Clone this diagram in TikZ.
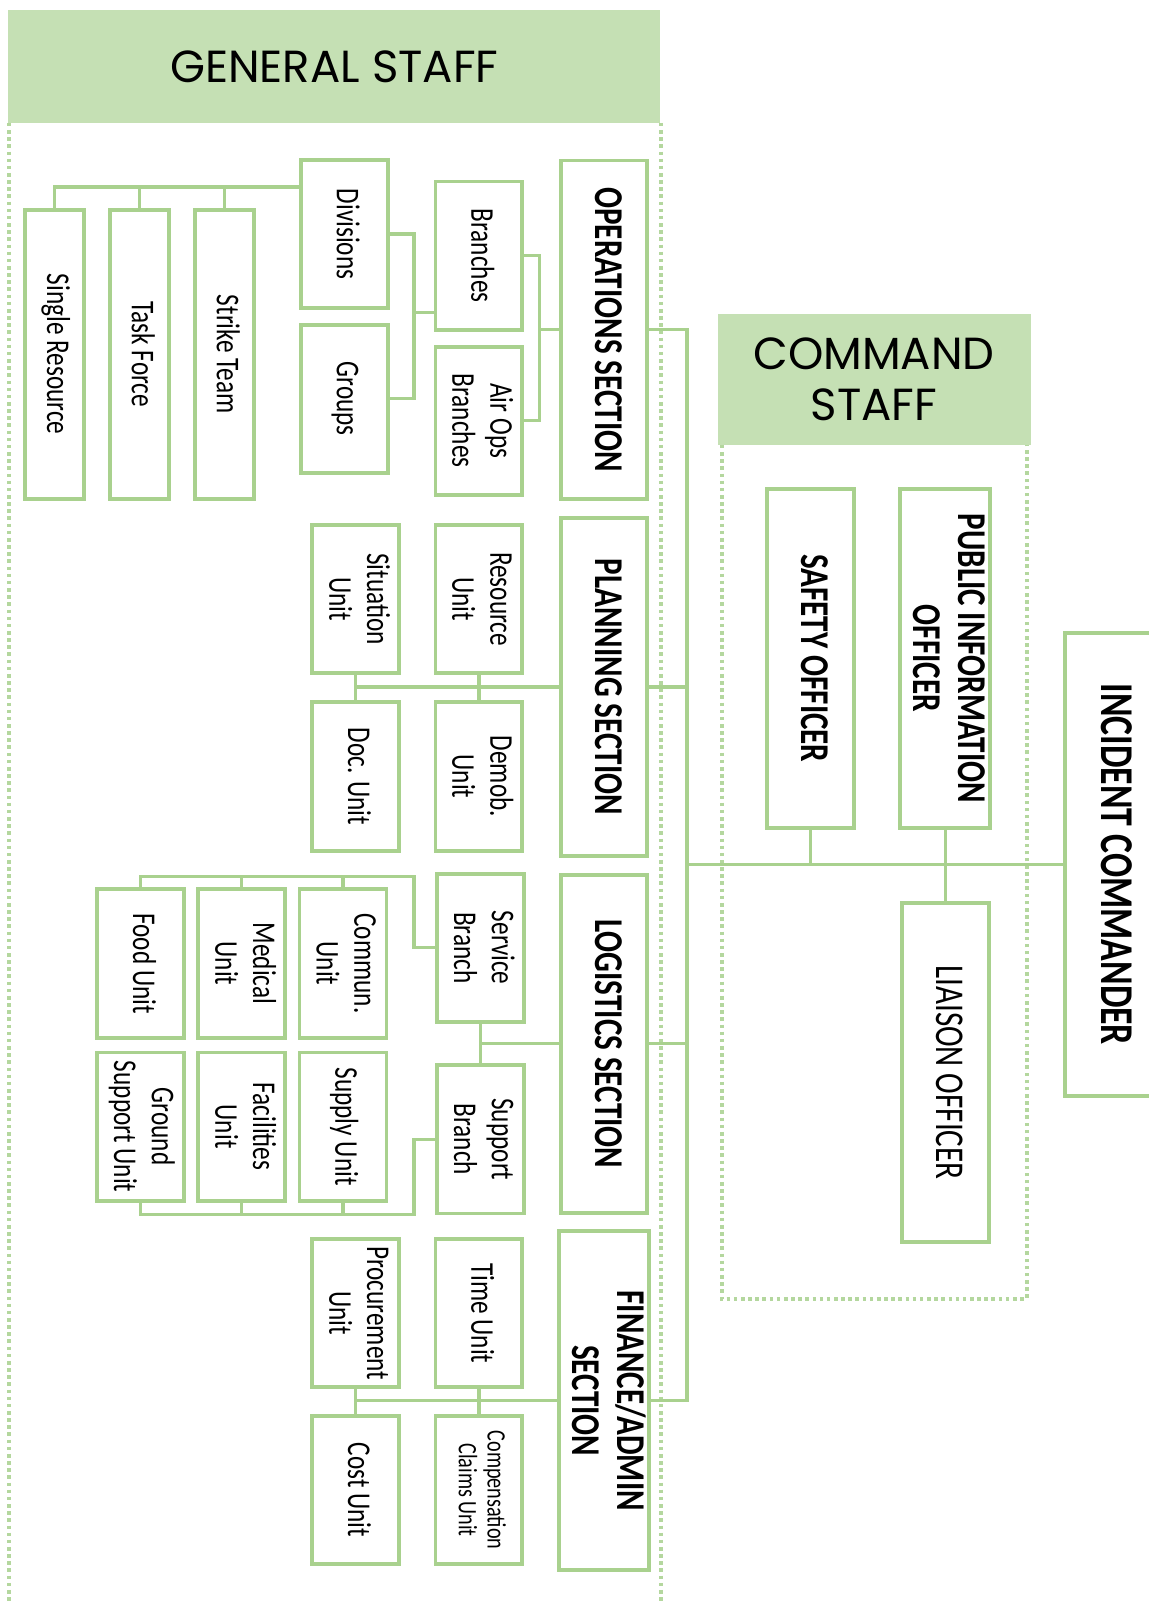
\documentclass[tikz,border=0pt]{standalone}
\usepackage{fontspec}
\usepackage{graphicx}
\setmainfont{Carlito}
\newfontfamily\hdrfont{Poppins}
\definecolor{icsline}{RGB}{169,209,142}
\definecolor{icsfill}{RGB}{197,224,180}
\definecolor{icsdot}{RGB}{180,215,158}
\newcommand{\vtext}[1]{\rotatebox{-90}{\scalebox{0.76}[1]{\begin{tabular}{@{}c@{}}#1\end{tabular}}}}
\begin{document}
\begin{tikzpicture}[x=1pt,y=-1pt,
	box/.style={draw=icsline,line width=3.8pt,fill=white,inner sep=0pt,outer sep=0pt},
	sect/.style={box,minimum width=84pt,minimum height=331pt,font=\fontsize{40}{44}\bfseries\selectfont},
	unit/.style={box,minimum width=85pt,minimum height=145pt,font=\fontsize{32.5}{37}\selectfont},
	tall/.style={box,minimum width=58pt,minimum height=283pt,font=\fontsize{32.5}{37}\selectfont},
	officer/.style={box,minimum width=85pt,minimum height=332pt,font=\fontsize{40}{44}\bfseries\selectfont},
	header/.style={fill=icsfill,inner sep=0pt,align=center,text=black,font=\hdrfont\fontsize{44}{50}\selectfont},
	frame/.style={draw=icsdot,line width=4pt,dash pattern=on 3.5pt off 3.5pt},
	link/.style={draw=icsline,line width=3.2pt}]
	\useasboundingbox (0,0) rectangle (1123,1568);
	\node[header,minimum width=638pt,minimum height=110pt] (gs) at (327,65) {GENERAL STAFF};
	\node[header,minimum width=306pt,minimum height=128pt] (cs) at (855,371) {COMMAND\\STAFF};
	\draw[frame] ([xshift=1pt]gs.south west) -- ++(0,1450);
	\draw[frame] (gs.south east) -- ++(0,1450);
	\draw[frame] ([xshift=4pt]cs.south west) -- ++(0,835) -| ([xshift=-4pt]cs.south east);
	\node[sect] (ops) at (591,322.5) {\vtext{OPERATIONS SECTION}};
	\node[sect] (plan) at (591,672) {\vtext{PLANNING SECTION}};
	\node[sect] (logi) at (591,1021) {\vtext{LOGISTICS SECTION}};
	\node[sect] (fin) at (591,1370) {\vtext{FINANCE/ADMIN\\SECTION}};
	\node[unit] (branch) at (468.5,250) {\vtext{Branches}};
	\node[unit] (airops) at (468.5,411.5) {\vtext{Air Ops\\Branches}};
	\node[unit] (divis) at (337,229) {\vtext{Divisions}};
	\node[unit] (groups) at (337,390) {\vtext{Groups}};
	\node[tall] (single) at (53.5,346.5) {\vtext{Single Resource}};
	\node[tall] (task) at (136.5,346.5) {\vtext{Task Force}};
	\node[tall] (strike) at (219.5,346.5) {\vtext{Strike Team}};
	\node[unit] (resource) at (468.5,586) {\vtext{Resource\\Unit}};
	\node[unit] (demob) at (468.5,759.5) {\vtext{Demob.\\Unit}};
	\node[unit] (situation) at (348,586) {\vtext{Situation\\Unit}};
	\node[unit] (doc) at (348,759.5) {\vtext{Doc. Unit}};
	\node[unit] (service) at (470,927) {\vtext{Service\\Branch}};
	\node[unit] (support) at (470,1114.5) {\vtext{Support\\Branch}};
	\node[unit] (commun) at (335.5,942.5) {\vtext{Commun.\\Unit}};
	\node[unit] (medical) at (236.5,942.5) {\vtext{Medical\\Unit}};
	\node[unit] (food) at (137.5,942.5) {\vtext{Food Unit}};
	\node[unit] (supply) at (335.5,1102) {\vtext{Supply Unit}};
	\node[unit] (facil) at (236.5,1102) {\vtext{Facilities\\Unit}};
	\node[unit] (ground) at (137.5,1102) {\vtext{Ground\\Support Unit}};
	\node[unit] (time) at (468.5,1284.5) {\vtext{Time Unit}};
	\node[unit,font=\fontsize{26}{28}\selectfont] (comp) at (468.5,1457.5) {\vtext{Compensation\\Claims Unit}};
	\node[unit] (procure) at (348,1284.5) {\vtext{Procurement\\Unit}};
	\node[unit] (cost) at (348,1457.5) {\vtext{Cost Unit}};
	\node[officer] (safety) at (793,644) {\vtext{SAFETY OFFICER}};
	\node[officer] (pio) at (924.5,644) {\vtext{PUBLIC INFORMATION\\OFFICER}};
	\node[officer,font=\fontsize{40}{44}\selectfont] (liaison) at (924.5,1049) {\vtext{LIAISON OFFICER}};
	\node[officer,minimum width=90pt,minimum height=453pt,font=\fontsize{46}{50}\bfseries\selectfont] (ic) at (1087,845.5) {\vtext{INCIDENT COMMANDER}};
	\coordinate (tk) at (672,322.5);
	\draw[link] (ops.east) -- (tk) |- (fin.east);
	\draw[link] (plan.east) -- (plan.east -| tk);
	\draw[link] (logi.east) -- (logi.east -| tk);
	\draw[link] (ic.west) -- (ic.west -| tk);
	\draw[link] (safety.south) -- (safety.south |- ic.west);
	\draw[link] (pio.south) -- (liaison.north);
	\coordinate (opsj) at (528,322.5);
	\draw[link] (branch.east) -| (opsj) |- (airops.east);
	\draw[link] (ops.west) -- (opsj);
	\coordinate (dvj) at (405,306);
	\draw[link] (divis.east) -| (dvj) |- (groups.east);
	\draw[link] (dvj) -- (dvj -| branch.west);
	\coordinate (rsj) at (294,183);
	\draw[link] (rsj) -| (single.north);
	\foreach \n in {task,strike}
		\draw[link] (\n.north) -- (\n.north |- rsj);
	\draw[link] (plan.west) -- (plan.west -| situation);
	\draw[link] (resource.south) -- (demob.north);
	\draw[link] (situation.south) -- (doc.north);
	\draw[link] (logi.west) -- (logi.west -| service);
	\draw[link] (service.south) -- (support.north);
	\coordinate (svj) at (405,857);
	\draw[link] (service.west) -| (svj) -| (food.north);
	\foreach \n in {commun,medical}
		\draw[link] (\n.north) -- (\n.north |- svj);
	\coordinate (spj) at (405,1188);
	\draw[link] (support.west) -| (spj) -| (ground.south);
	\foreach \n in {supply,facil}
		\draw[link] (\n.south) -- (\n.south |- spj);
	\draw[link] (fin.west) -- (fin.west -| procure);
	\draw[link] (time.south) -- (comp.north);
	\draw[link] (procure.south) -- (cost.north);
\end{tikzpicture}
\end{document}
